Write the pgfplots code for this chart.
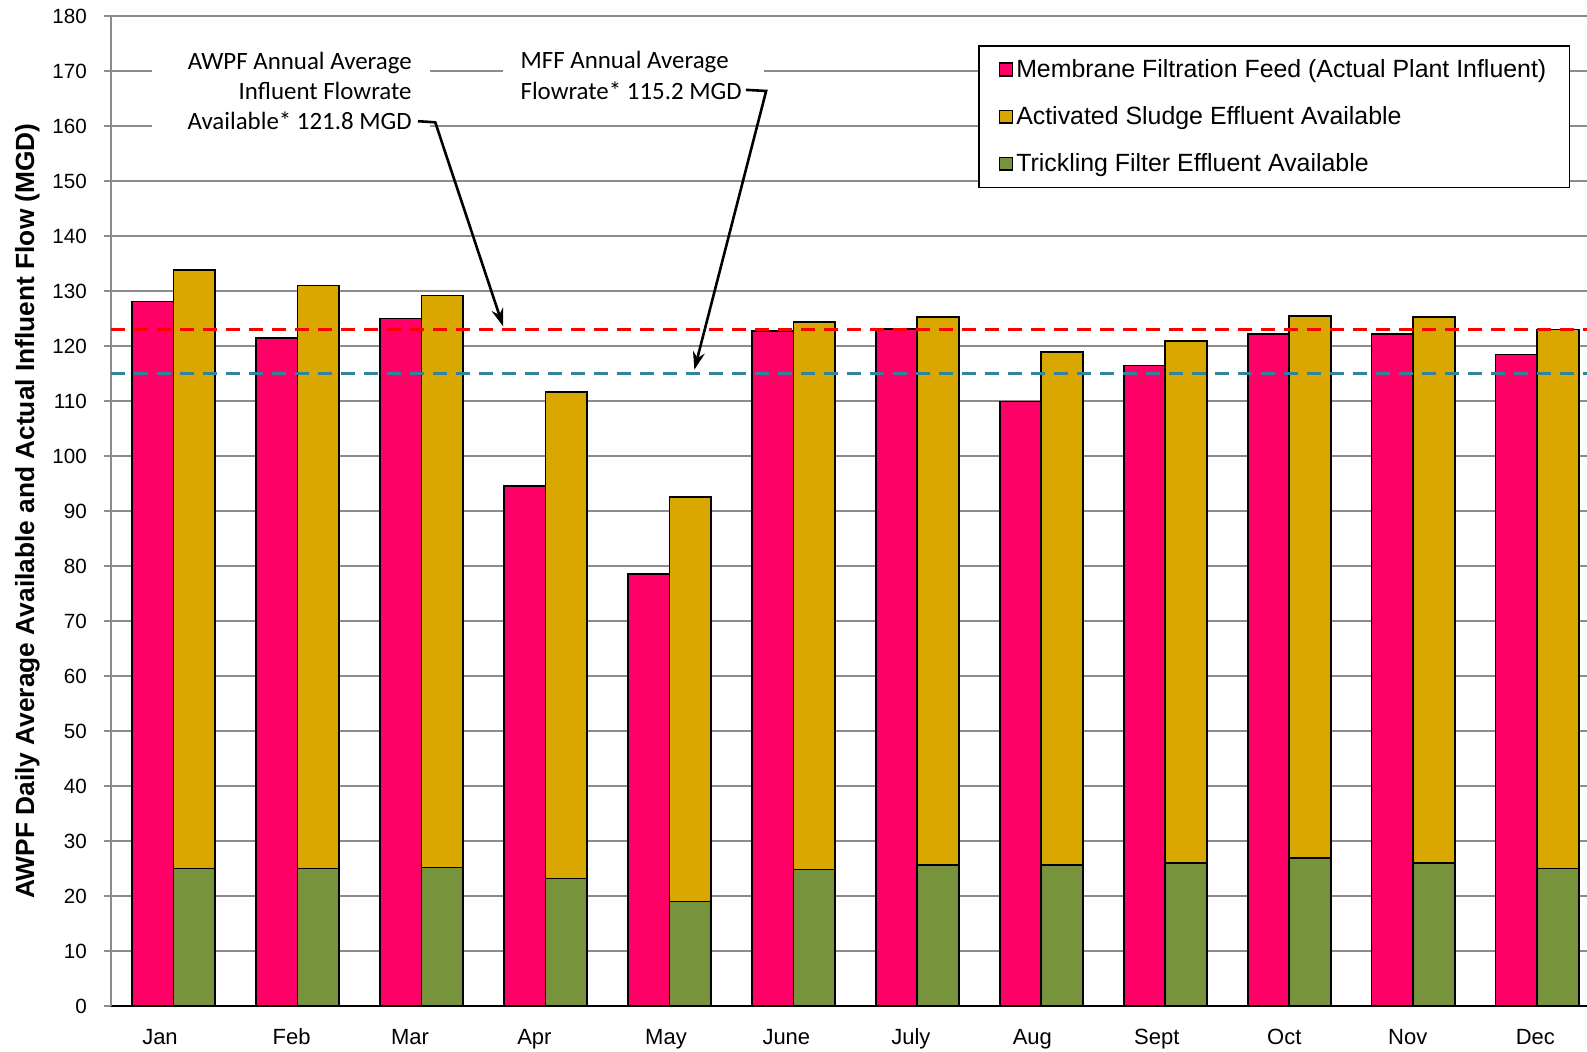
\documentclass[border=0pt]{standalone}
\usepackage{pgfplots}
\pgfplotsset{compat=1.18}
\usepackage{fontspec}
\setmainfont{Liberation Sans}
\newfontfamily\calib{Carlito}
\usetikzlibrary{arrows.meta}
\definecolor{pinkc}{HTML}{FF0066}
\definecolor{goldc}{HTML}{DAA700}
\definecolor{greenc}{HTML}{77933C}
\definecolor{tealc}{HTML}{31849B}
\definecolor{gridc}{HTML}{8C8C8C}
\begin{document}
\begin{tikzpicture}
\useasboundingbox (0,0) rectangle (793.5pt,526pt);
\begin{axis}[
  at={(55.7pt,23pt)}, anchor=south west,
  scale only axis, width=743.9pt, height=494.9pt,
  xmin=-0.5, xmax=11.5, ymin=0, ymax=180,
  axis x line*=bottom, axis y line*=left,
  x axis line style={-, black, line width=1.1pt},
  y axis line style={-, gridc, line width=0.9pt},
  xtick={-0.108,0.953,1.908,2.912,3.973,4.944,5.948,6.928,7.932,8.960,9.956,10.985},
  xticklabels={Jan,Feb,Mar,Apr,May,June,July,Aug,Sept,Oct,Nov,Dec},
  x tick style={draw=none},
  ytick={0,10,...,180},
  y tick style={gridc, line width=0.9pt},
  tick align=outside, major tick length=3.8pt,
  ymajorgrids, grid style={gridc, line width=0.9pt},
  /pgf/number format/assume math mode=true,
  yticklabel style={font=\fontsize{10.3}{12}\selectfont, xshift=-5pt},
  xticklabel style={font=\fontsize{11}{13}\selectfont, yshift=-4pt, text height=8pt, text depth=2.3pt},
  ylabel={\bfseries AWPF Daily Average Available and Actual Influent Flow (MGD)},
  every axis y label/.style={at={(axis description cs:0,0.5)}, xshift=-42pt, rotate=90, anchor=center,
    font=\fontsize{13.15}{15}\selectfont},
  legend style={at={(0.5825,0.9705)}, anchor=north west, draw=black, line width=0.8pt,
    font=\fontsize{12.45}{14}\selectfont, row sep=9pt, inner xsep=10pt, inner ysep=4.5pt,
    nodes={inner xsep=1.5pt}},
  legend cell align=left,
  legend image code/.code={\draw[#1, line width=0.8pt] (0pt,-3.2pt) rectangle (6.4pt,3.2pt);},
  clip=false,
]
\addplot[ybar, fill=pinkc, draw=black, line width=0.8pt, bar width=0.335, bar shift=-0.1675]
  coordinates {(0,128.1) (1,121.5) (2,125.0) (3,94.6) (4,78.6) (5,122.8) (6,123.1) (7,109.9) (8,116.5) (9,122.2) (10,122.2) (11,118.5)};
\addlegendentry{Membrane Filtration Feed (Actual Plant Influent)}
\addplot[ybar, fill=goldc, draw=black, line width=0.8pt, bar width=0.335, bar shift=0.1675]
  coordinates {(0,133.8) (1,131.0) (2,129.2) (3,111.7) (4,92.6) (5,124.4) (6,125.3) (7,118.9) (8,120.9) (9,125.5) (10,125.3) (11,123.0)};
\addlegendentry{Activated Sludge Effluent Available}
\addplot[ybar, fill=greenc, draw=black, line width=0.8pt, bar width=0.335, bar shift=0.1675]
  coordinates {(0,25.0) (1,25.0) (2,25.2) (3,23.2) (4,19.0) (5,24.8) (6,25.6) (7,25.6) (8,26.0) (9,26.9) (10,26.0) (11,25.0)};
\addlegendentry{Trickling Filter Effluent Available}
\addplot[forget plot, red, line width=1.7pt, dash pattern=on 7pt off 4.5pt] coordinates {(-0.5,123.0) (11.5,123.0)};
\addplot[forget plot, tealc, line width=1.7pt, dash pattern=on 7pt off 4.5pt] coordinates {(-0.5,115.0) (11.5,115.0)};
% annotation backgrounds
\fill[white] (axis cs:-0.173,158.1) rectangle (axis cs:2.072,176.5);
\fill[white] (axis cs:2.659,163.6) rectangle (axis cs:4.764,176.5);
\node[anchor=east, align=right, inner sep=0pt, font=\calib\fontsize{12.45}{15.2}\selectfont] at (axis cs:1.925,166.4)
  {AWPF Annual Average\\Influent Flowrate\\Available* 121.8 MGD};
\node[anchor=west, align=left, inner sep=0pt, font=\calib\fontsize{12.45}{15.2}\selectfont] at (axis cs:2.797,169.25)
  {MFF Annual Average\\Flowrate* 115.2 MGD};
\draw[black, line width=1.3pt, -{Stealth[length=9pt,width=6pt]}] (axis cs:1.973,160.9) -- (axis cs:2.112,160.7) -- (axis cs:2.659,123.6);
\draw[black, line width=1.3pt, -{Stealth[length=9pt,width=6pt]}] (axis cs:4.618,166.6) -- (axis cs:4.781,166.4) -- (axis cs:4.202,115.7);
\end{axis}
\end{tikzpicture}
\end{document}
